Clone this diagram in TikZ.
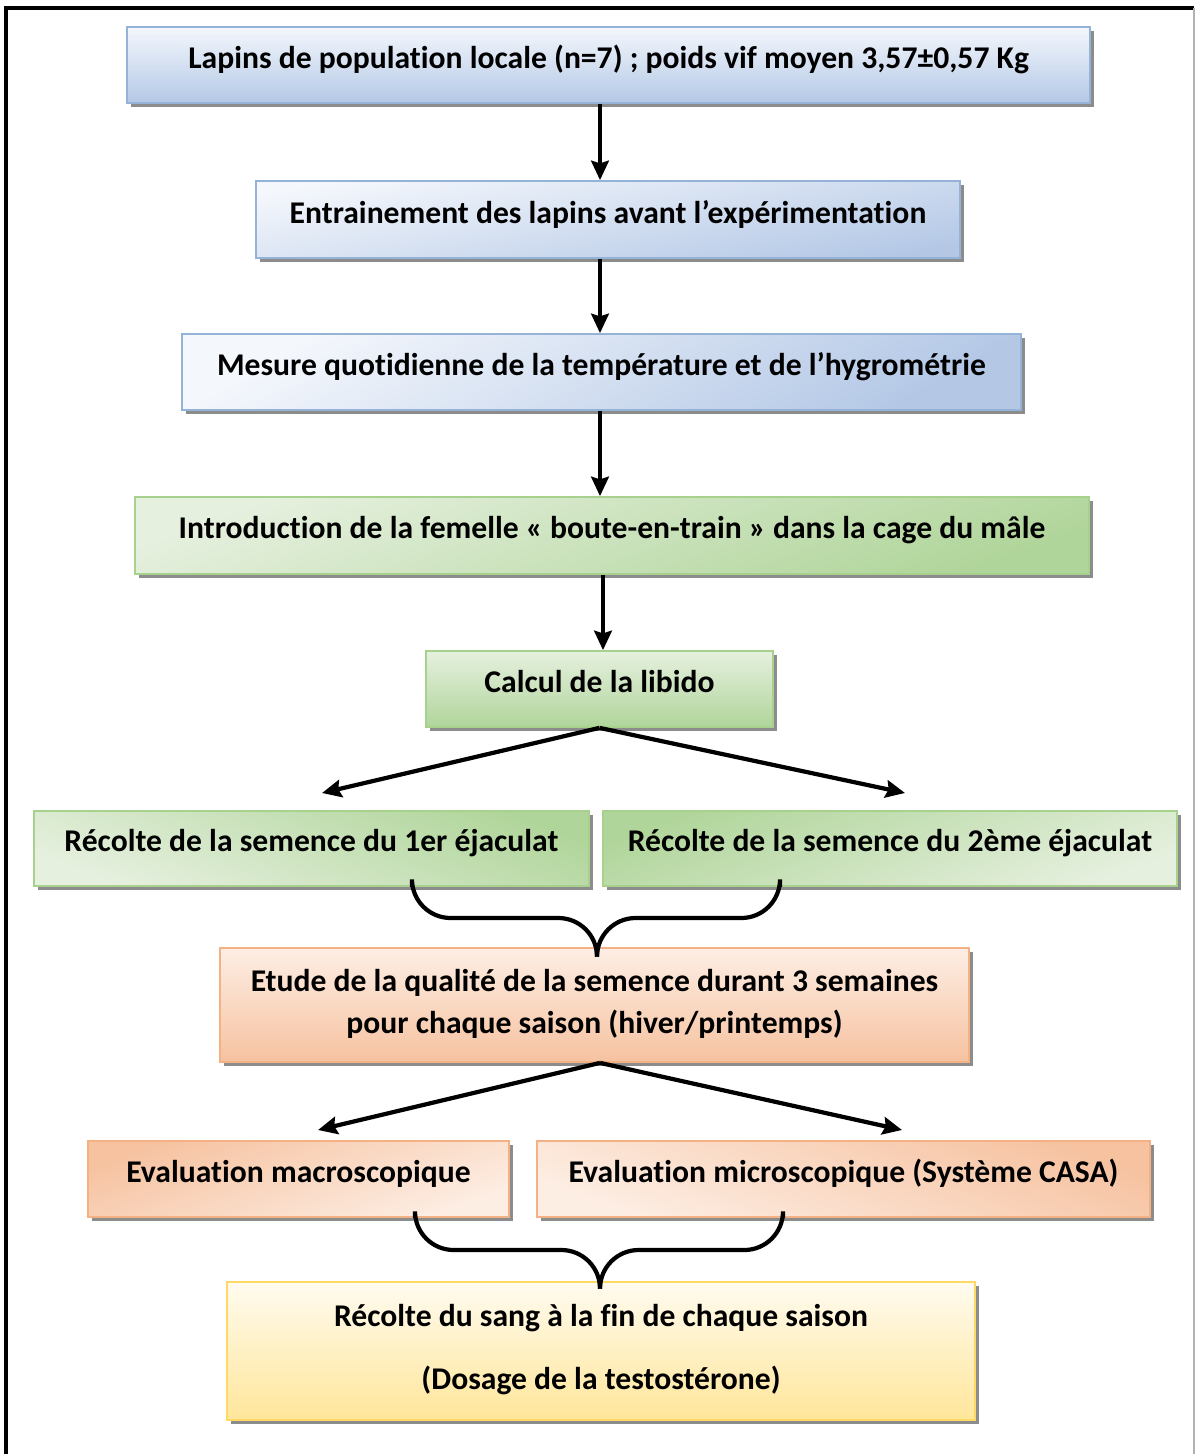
\documentclass[tikz,border=0pt]{standalone}
\usepackage{fontspec}
\setmainfont{Carlito}[Ligatures={NoCommon,TeX}]
\usepackage{tikz}
\usetikzlibrary{arrows.meta,shadows}

\definecolor{bluebd}{HTML}{95B3D7}
\definecolor{bluelt}{HTML}{F4F7FC}
\definecolor{bluedk}{HTML}{B4C8E6}
\definecolor{greenbd}{HTML}{A9D18E}
\definecolor{greenlt}{HTML}{E6F0DF}
\definecolor{greendk}{HTML}{B0D59A}
\definecolor{orangebd}{HTML}{F4B183}
\definecolor{orangelt}{HTML}{FDEEE4}
\definecolor{orangedk}{HTML}{F6C2A0}
\definecolor{yellowbd}{HTML}{FFD966}
\definecolor{yellowlt}{HTML}{FFFBEF}
\definecolor{yellowdk}{HTML}{FFE69A}

\begin{document}
\begin{tikzpicture}[x=0.02cm, y=-0.02cm, line width=2.4pt,
  >={Stealth[length=11pt, width=10pt, inset=1.5pt]},
  font=\fontsize{18}{24}\selectfont\bfseries,
  stepbox/.style={draw, line width=1pt, inner sep=0pt, align=center, text depth=9pt,
    general shadow={fill=black!45, shadow xshift=2.5pt, shadow yshift=-2.5pt}},
  bluebox/.style={stepbox, draw=bluebd, top color=bluelt, bottom color=bluedk},
  greenbox/.style={stepbox, draw=greenbd, top color=greenlt, bottom color=greendk},
  orangebox/.style={stepbox, draw=orangebd, top color=orangelt, bottom color=orangedk},
  yellowbox/.style={stepbox, draw=yellowbd, top color=yellowlt, bottom color=yellowdk}]

\useasboundingbox (0,0) rectangle (1196,1454);
\draw[line width=2.2pt] (6,1460) -- (6,8) -- (1194,8);
\draw[black!30, line width=1pt] (1194,8) -- (1194,1460);

% lapins et conditions
\node [bluebox, minimum width=19.26cm, minimum height=1.52cm] (lapins) at (608.5,65)
  {Lapins de population locale (n=7) ; poids vif moyen 3,57±0,57 Kg};
\node [bluebox, minimum width=14.08cm, minimum height=1.54cm, shading angle=10] (train) at (608,219.5)
  {Entrainement des lapins avant l’expérimentation};
\node [bluebox, minimum width=16.78cm, minimum height=1.52cm, shading angle=30] (mesure) at (601.5,372)
  {Mesure quotidienne de la température et de l’hygrométrie};

% libido et recolte
\node [greenbox, minimum width=19.08cm, minimum height=1.54cm, shading angle=20] (femelle) at (612,535.5)
  {Introduction de la femelle « boute-en-train » dans la cage du mâle};
\node [greenbox, minimum width=6.94cm, minimum height=1.52cm] (libido) at (599.5,689)
  {Calcul de la libido};
\node [greenbox, minimum width=11.1cm, minimum height=1.5cm, shading angle=160] (ejac1) at (311.5,848.5)
  {Récolte de la semence du 1er éjaculat};
\node [greenbox, minimum width=11.48cm, minimum height=1.5cm, shading angle=200] (ejac2) at (890,848.5)
  {Récolte de la semence du 2ème éjaculat};

% qualite de la semence
\node [orangebox, minimum width=14.98cm, minimum height=2.28cm, text depth=4pt] (qualite) at (594.5,1005)
  {Etude de la qualité de la semence durant 3 semaines\\pour chaque saison (hiver/printemps)};
\node [orangebox, minimum width=8.42cm, minimum height=1.52cm, shading angle=200] (macro) at (298.5,1179)
  {Evaluation macroscopique};
\node [orangebox, minimum width=12.26cm, minimum height=1.52cm, shading angle=160] (micro) at (843.5,1179)
  {Evaluation microscopique (Système CASA)};

% sang
\node [yellowbox, minimum width=14.96cm, minimum height=2.76cm, text depth=5pt] (sang) at (601,1351)
  {Récolte du sang à la fin de chaque saison\\[12pt](Dosage de la testostérone)};

% fleches
\draw [->] (lapins.south -| 600,0) -- (train.north -| 600,0);
\draw [->] (train.south -| 600,0) -- (mesure.north -| 600,0);
\draw [->] (mesure.south -| 600,0) -- (femelle.north -| 600,0);
\draw [->] (femelle.south -| 603,0) -- (libido.north -| 603,0);

\coordinate (lib1) at (322,793);
\coordinate (lib2) at (905,793);
\draw [->] (libido.south) -- (lib1);
\draw [->] (libido.south) -- (lib2);

\coordinate (qual1) at (318,1130);
\coordinate (qual2) at (902,1130);
\draw [->] (qualite.south -| 600,0) -- (qual1);
\draw [->] (qualite.south -| 600,0) -- (qual2);

% accolades
\draw [rounded corners=22] (ejac1.south -| 412,0) -- (412,918) -- (597,918) -- (qualite.north -| 597,0);
\draw [rounded corners=22] (ejac2.south -| 780,0) -- (780,918) -- (597,918) -- (qualite.north -| 597,0);
\draw [rounded corners=22] (macro.south -| 415,0) -- (415,1250) -- (600,1250) -- (sang.north -| 600,0);
\draw [rounded corners=22] (micro.south -| 783,0) -- (783,1250) -- (600,1250) -- (sang.north -| 600,0);
\end{tikzpicture}
\end{document}
